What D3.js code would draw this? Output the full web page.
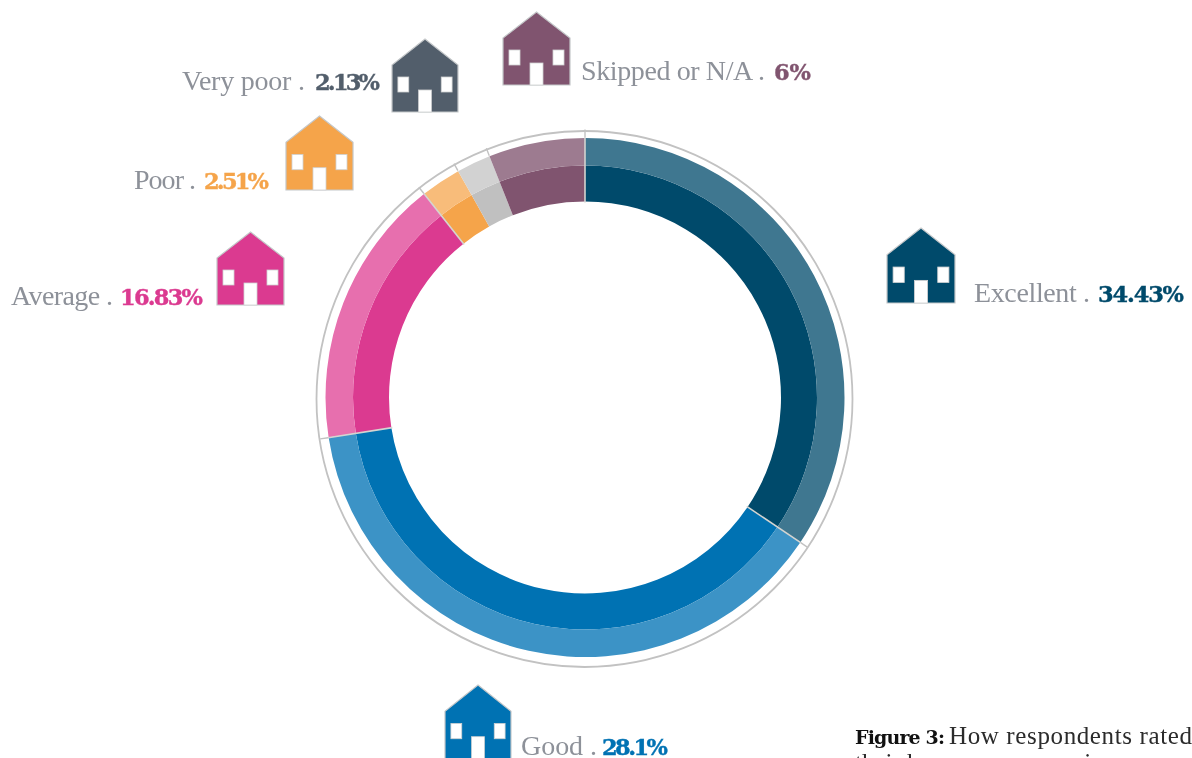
<!DOCTYPE html>
<html><head><meta charset="utf-8">
<script src="https://cdn.jsdelivr.net/npm/d3@7"></script>
<style>html,body{margin:0;background:#fff;overflow:hidden}svg{display:block;filter:blur(.45px)}</style></head>
<body><svg id="c" width="1192" height="758"></svg>
<script>
// Data
const categories = ["Excellent","Good","Average","Poor","Very poor","Skipped or N/A"];
const printedLabels = ["34.43%","28.1%","16.83%","2.51%","2.13%","6%"];
// arc shares as actually drawn (the Good arc spans about 38.1% although it is printed 28.1%)
const drawnShares = [34.43,38.1,16.83,2.51,2.13,6];
const darkColors = ["#004a6b","#0072b3","#db3a90","#f5a44a","#c0c0c0","#80546f"];
const lightColors = ["#3f7790","#3c93c6","#e76fae","#f8bc7a","#d2d2d2","#9d7b90"];
const iconColors = ["#004a6b","#0072b3","#db3a90","#f5a44a","#525e6b","#80546f"];

// layout (one per category): house box, label and value text boxes
const layout = [
 {hx:887,hy:228,hw:68,hh:75,tx:974,ty:302,lw:116,vx:1098,vw:86},
 {hx:445,hy:685,hw:66,hh:74,tx:521,ty:755,lw:76,vx:602,vw:66},
 {hx:217,hy:232,hw:67,hh:73,tx:11,ty:305,lw:102,vx:120,vw:83},
 {hx:286,hy:116,hw:67,hh:74,tx:134,ty:189,lw:62,vx:204,vw:65},
 {hx:392,hy:39,hw:66,hh:73,tx:182,ty:90,lw:123,vx:315,vw:65},
 {hx:503,hy:12,hw:67,hh:73,tx:581,ty:80,lw:184,vx:774,vw:37}
];
const labelFont = "'Liberation Serif',serif";
const boldFont = "'DejaVu Serif',serif";
const svg = d3.select("#c");
const cx=585, cy=397.5;
const pie = d3.pie().sort(null).value(d=>d);
const arcs = pie(drawnShares);
const g = svg.append("g").attr("transform",`translate(${cx},${cy})`);

svg.append("circle").attr("cx",584.5).attr("cy",399).attr("r",268).attr("fill","none").attr("stroke","#c2c2c2").attr("stroke-width",1.8);
const inner = d3.arc().innerRadius(196).outerRadius(232);
const outer = d3.arc().innerRadius(232).outerRadius(259.5);
g.selectAll("path.d").data(arcs).join("path").attr("class","d").attr("d",inner).attr("fill",(d,i)=>darkColors[i]);
g.selectAll("path.l").data(arcs).join("path").attr("class","l").attr("d",outer).attr("fill",(d,i)=>lightColors[i]);
// separators (none visible around the grey segment) and ticks across to the thin ring
const seps = arcs.filter(d=>d.index!==4 && d.index!==5);
g.selectAll("line.s").data(seps).join("line").attr("class","s")
 .attr("x1",d=>195*Math.sin(d.startAngle)).attr("y1",d=>-195*Math.cos(d.startAngle))
 .attr("x2",d=>260*Math.sin(d.startAngle)).attr("y2",d=>-260*Math.cos(d.startAngle))
 .attr("stroke","#d4d4d0").attr("stroke-width",1.6);
g.selectAll("line.t").data(arcs).join("line").attr("class","t")
 .attr("x1",d=>260*Math.sin(d.startAngle)).attr("y1",d=>-260*Math.cos(d.startAngle))
 .attr("x2",d=>268*Math.sin(d.startAngle)).attr("y2",d=>-268*Math.cos(d.startAngle))
 .attr("stroke","#c2c2c2").attr("stroke-width",1.4);

// Houses, drawn on a 67x73 unit box
const housePath = "M33.5 0L67 26V73H0V26Z";
const h = svg.selectAll("g.h").data(categories).join("g").attr("class","h")
 .attr("transform",(d,i)=>`translate(${layout[i].hx},${layout[i].hy}) scale(${layout[i].hw/67},${layout[i].hh/73})`);
h.append("path").attr("d",housePath).attr("fill",(d,i)=>iconColors[i]).attr("stroke","#c4c7c9").attr("stroke-width",1.2);
const white = sel=>sel.attr("fill","#fff").attr("stroke","#cfd1d2").attr("stroke-width",.8);
white(h.append("rect").attr("x",6).attr("y",38).attr("width",11).attr("height",15));
white(h.append("rect").attr("x",50).attr("y",38).attr("width",11).attr("height",15));
white(h.append("rect").attr("x",27).attr("y",51).attr("width",13).attr("height",22));

// Labels
svg.selectAll("text.lab").data(categories).join("text").attr("class","lab")
 .attr("x",(d,i)=>layout[i].tx).attr("y",(d,i)=>layout[i].ty)
 .attr("textLength",(d,i)=>layout[i].lw).attr("lengthAdjust","spacing")
 .attr("font-family",labelFont).attr("font-size",28).attr("fill","#8d9199")
 .text(d=>d+" .");
svg.selectAll("text.val").data(printedLabels).join("text").attr("class","val")
 .attr("x",(d,i)=>layout[i].vx).attr("y",(d,i)=>layout[i].ty)
 .attr("textLength",(d,i)=>layout[i].vw).attr("lengthAdjust","spacing")
 .attr("font-family",boldFont).attr("font-weight","bold").attr("font-size",22.5)
 .attr("fill",(d,i)=>iconColors[i]).attr("stroke",(d,i)=>iconColors[i]).attr("stroke-width",.4).text(d=>d);

// Caption (cut off by the picture edge)
svg.append("text").attr("x",855).attr("y",744).attr("textLength",90).attr("lengthAdjust","spacing")
 .attr("font-family",boldFont).attr("font-weight","bold").attr("font-size",19).attr("fill","#111").text("Figure 3:");
svg.append("text").attr("x",949).attr("y",744).attr("textLength",243).attr("lengthAdjust","spacing")
 .attr("font-family",labelFont).attr("font-size",25).attr("fill","#2b2b2b").text("How respondents rated");
svg.append("text").attr("x",855).attr("y",771).attr("font-family",labelFont).attr("font-size",25).attr("fill","#2b2b2b").text("their home energy service");
</script></body></html>
